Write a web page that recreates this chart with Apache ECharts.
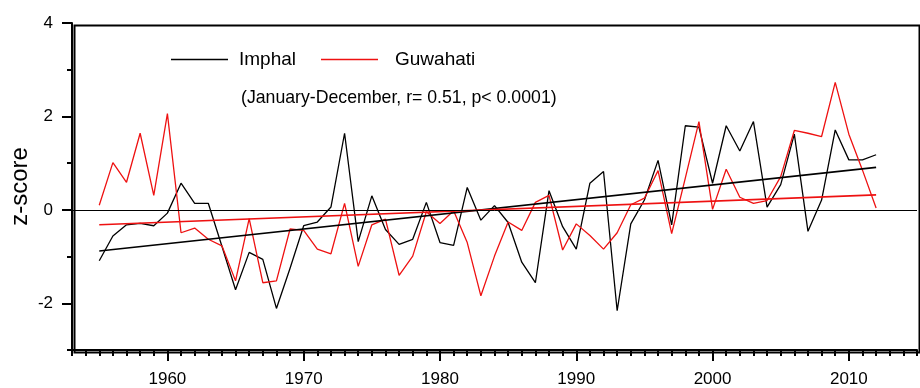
<!DOCTYPE html>
<html>
<head>
<meta charset="utf-8">
<script src="https://cdn.jsdelivr.net/npm/echarts@6/dist/echarts.min.js"></script>
<style>
html,body{margin:0;padding:0;background:#fff;}
#c{width:920px;height:388px;}
</style>
</head>
<body>
<div id="c"></div>
<script>
var years = [1955,1956,1957,1958,1959,1960,1961,1962,1963,1964,
  1965,1966,1967,1968,1969,1970,1971,1972,1973,1974,
  1975,1976,1977,1978,1979,1980,1981,1982,1983,1984,
  1985,1986,1987,1988,1989,1990,1991,1992,1993,1994,
  1995,1996,1997,1998,1999,2000,2001,2002,2003,2004,
  2005,2006,2007,2008,2009,2010,2011,2012];
var imphal = [-1.09,-0.56,-0.32,-0.29,-0.34,-0.07,0.57,0.14,0.14,-0.78,
  -1.71,-0.91,-1.06,-2.11,-1.25,-0.34,-0.26,0.06,1.64,-0.68,
  0.30,-0.42,-0.74,-0.63,0.16,-0.70,-0.76,0.48,-0.22,0.09,
  -0.27,-1.12,-1.56,0.41,-0.36,-0.84,0.57,0.82,-2.16,-0.30,
  0.21,1.06,-0.32,1.80,1.77,0.57,1.80,1.26,1.89,0.06,
  0.54,1.62,-0.46,0.21,1.71,1.07,1.07,1.18];
var guwahati = [0.10,1.01,0.59,1.64,0.31,2.06,-0.49,-0.39,-0.63,-0.77,
  -1.52,-0.19,-1.56,-1.52,-0.41,-0.44,-0.84,-0.94,0.14,-1.21,
  -0.32,-0.20,-1.40,-0.99,-0.04,-0.29,-0.02,-0.70,-1.84,-0.99,
  -0.26,-0.44,0.16,0.31,-0.86,-0.30,-0.55,-0.84,-0.49,0.11,
  0.25,0.84,-0.51,0.68,1.89,0.01,0.87,0.27,0.14,0.20,
  0.71,1.70,1.64,1.57,2.73,1.62,0.85,0.04];
var trendYears = [1955, 2012];
var imphalTrend = [-0.88, 0.91];
var guwahatiTrend = [-0.32, 0.32];
var xMajorTicks = [1960,1970,1980,1990,2000,2010];
var yMajorTicks = [-2,0,2,4];
var yMinorTicks = [-3,-1,1,3];
var xRange = [1953, 2015];
var yRange = [-3, 4];
var annotation = '(January-December, r= 0.51, p< 0.0001)';

function pairs(xs, ys){ return xs.map(function(x,i){return [x, ys[i]];}); }

var RED = '#ee1111';
var chart = echarts.init(document.getElementById('c'), null, {renderer:'canvas'});
var font = 'Liberation Sans, Arial, sans-serif';
var blackLine = {color: '#000', width: 2};
chart.setOption({
  animation: false,
  textStyle: {fontFamily: font},
  title: {
    text: annotation, left: 236, top: 84,
    textStyle: {fontFamily: font, fontSize: 17.7, fontWeight: 'normal', color: '#000'}
  },
  legend: [
    {data: ['Imphal'], left: 166, top: 45, icon: 'rect', itemWidth: 57, itemHeight: 1.3,
     textStyle: {fontFamily: font, fontSize: 19, color: '#000', padding: [0,0,0,6]}},
    {data: ['Guwahati'], left: 316, top: 45, icon: 'rect', itemWidth: 57, itemHeight: 1.3,
     textStyle: {fontFamily: font, fontSize: 19, color: '#000', padding: [0,0,0,12]}}
  ],
  grid: {left: 72, right: 3, top: 23, bottom: 38, outerBoundsMode: 'none'},
  xAxis: [
    {type: 'value', min: xRange[0], max: xRange[1], position: 'bottom',
     axisLine: {show: true, onZero: false, lineStyle: blackLine},
     axisTick: {show: true, customValues: xMajorTicks, length: 11, lineStyle: blackLine},
     axisLabel: {customValues: xMajorTicks, color: '#000', fontSize: 17, margin: 21, fontFamily: font,
                 formatter: function(v){ return String(v); }},
     splitLine: {show: false}},
    {type: 'value', min: xRange[0], max: xRange[1], interval: 1, position: 'bottom',
     axisLine: {show: false, onZero: false},
     axisTick: {show: true, length: 6, lineStyle: blackLine},
     axisLabel: {show: false}, splitLine: {show: false}}
  ],
  yAxis: [
    {type: 'value', min: yRange[0], max: yRange[1], position: 'left',
     name: 'z-score', nameLocation: 'middle', nameRotate: 90, nameGap: 40, nameMoveOverlap: false,
     nameTextStyle: {fontSize: 24, color: '#000', fontFamily: font},
     axisLine: {show: true, onZero: false, lineStyle: blackLine},
     axisTick: {show: true, customValues: yMajorTicks, length: 10, lineStyle: blackLine},
     axisLabel: {customValues: yMajorTicks, color: '#000', fontSize: 17, margin: 19, fontFamily: font},
     splitLine: {show: false}},
    {type: 'value', min: yRange[0], max: yRange[1], position: 'left',
     axisLine: {show: false, onZero: false},
     axisTick: {show: true, customValues: yMinorTicks, length: 5, lineStyle: blackLine},
     axisLabel: {show: false}, splitLine: {show: false}}
  ],
  graphic: [
    {type: 'rect', left: 72, top: 23, z: 100, silent: true,
     shape: {width: 845, height: 327},
     style: {fill: 'none', stroke: '#000', lineWidth: 2}}
  ],
  series: [
    {name: 'Imphal', type: 'line', data: pairs(years, imphal), symbol: 'none',
     lineStyle: {color: '#000', width: 1.3}, itemStyle: {color: '#000'},
     markLine: {silent: true, symbol: 'none', label: {show: false},
       lineStyle: {color: '#000', width: 1, type: 'solid'}, data: [{yAxis: 0}]}},
    {name: 'Guwahati', type: 'line', data: pairs(years, guwahati), symbol: 'none',
     lineStyle: {color: RED, width: 1.3}, itemStyle: {color: RED}},
    {name: 'Imphal trend', type: 'line', data: pairs(trendYears, imphalTrend), symbol: 'none',
     lineStyle: {color: '#000', width: 1.6}},
    {name: 'Guwahati trend', type: 'line', data: pairs(trendYears, guwahatiTrend), symbol: 'none',
     lineStyle: {color: RED, width: 1.6}}
  ]
});
</script>
</body>
</html>
